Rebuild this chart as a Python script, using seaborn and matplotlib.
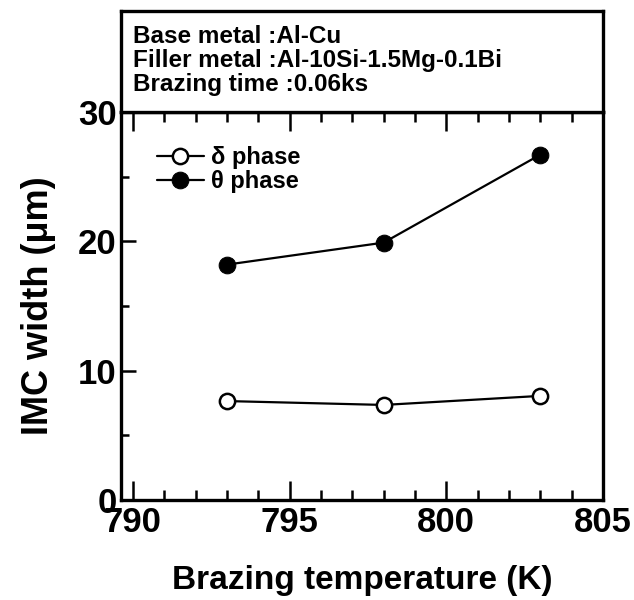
import matplotlib
matplotlib.use("Agg")
import matplotlib.pyplot as plt
import seaborn as sns
import pandas as pd
from matplotlib.ticker import MultipleLocator

temperature = [793, 798, 803]
delta_width = [7.65, 7.35, 8.05]
theta_width = [18.2, 19.9, 26.7]
series_labels = ["δ phase", "θ phase"]
info_lines = ["Base metal :Al-Cu",
              "Filler metal :Al-10Si-1.5Mg-0.1Bi",
              "Brazing time :0.06ks"]

sns.set_style("ticks")
plt.rcParams['font.family'] = ['Liberation Sans', 'DejaVu Sans']
plt.rcParams['font.weight'] = 'bold'
for k in ['text.color', 'axes.labelcolor', 'xtick.color', 'ytick.color', 'axes.edgecolor']:
    plt.rcParams[k] = 'black'

fig = plt.figure(figsize=(6.34, 6.0), dpi=100)
ax = fig.add_axes([121/634, 100/600, 482/634, 388/600])

df_d = pd.DataFrame({"T": temperature, "w": delta_width})
df_t = pd.DataFrame({"T": temperature, "w": theta_width})
sns.lineplot(data=df_d, x="T", y="w", ax=ax, color="black", lw=1.6,
             marker="o", markersize=11, markerfacecolor="white",
             markeredgecolor="black", markeredgewidth=1.8, label=series_labels[0])
sns.lineplot(data=df_t, x="T", y="w", ax=ax, color="black", lw=1.6,
             marker="o", markersize=12, markerfacecolor="black",
             markeredgecolor="black", label=series_labels[1])

ax.set_xlim(789.62, 805)
ax.set_ylim(0, 30)
ax.xaxis.set_major_locator(MultipleLocator(5))
ax.xaxis.set_minor_locator(MultipleLocator(1))
ax.yaxis.set_major_locator(MultipleLocator(10))
ax.yaxis.set_minor_locator(MultipleLocator(5))
ax.tick_params(which='both', direction='in', top=True, right=False, width=1.8,
               colors='black')
ax.tick_params(which='major', axis='x', length=14)
ax.tick_params(which='minor', axis='x', length=7)
ax.tick_params(which='major', axis='y', length=11)
ax.tick_params(which='minor', axis='y', length=6)
ax.tick_params(which='major', labelsize=25)
ax.tick_params(axis='x', which='major', pad=4)
ax.tick_params(axis='y', which='major', pad=3)
for lbl in ax.get_xticklabels() + ax.get_yticklabels():
    lbl.set_fontweight('bold')
for s in ax.spines.values():
    s.set_linewidth(2.4)
    s.set_visible(True)
    s.set_color('black')

ax.set_xlabel("Brazing temperature (K)", fontsize=24, fontweight='bold', labelpad=19)
ax.set_ylabel("IMC width (μm)", fontsize=26, fontweight='bold', labelpad=16)

leg = ax.legend(loc='upper left', bbox_to_anchor=(0.04, 0.955), frameon=False,
                prop={'size': 17, 'weight': 'bold'}, handlelength=2.0,
                handletextpad=0.3, labelspacing=0.05, borderaxespad=0.3)
for t in leg.get_texts():
    t.set_color('black')

bx = fig.add_axes([121/634, 488/600, 482/634, 101/600])
bx.set_xticks([]); bx.set_yticks([])
for s in bx.spines.values():
    s.set_linewidth(2.4)
    s.set_visible(True)
    s.set_color('black')
for i, t in enumerate(info_lines):
    bx.text(0.025, 0.75 - i*0.24, t, transform=bx.transAxes, fontsize=17.5,
            fontweight='bold', va='center', ha='left', color='black')

fig.savefig("out.png", dpi=100)
